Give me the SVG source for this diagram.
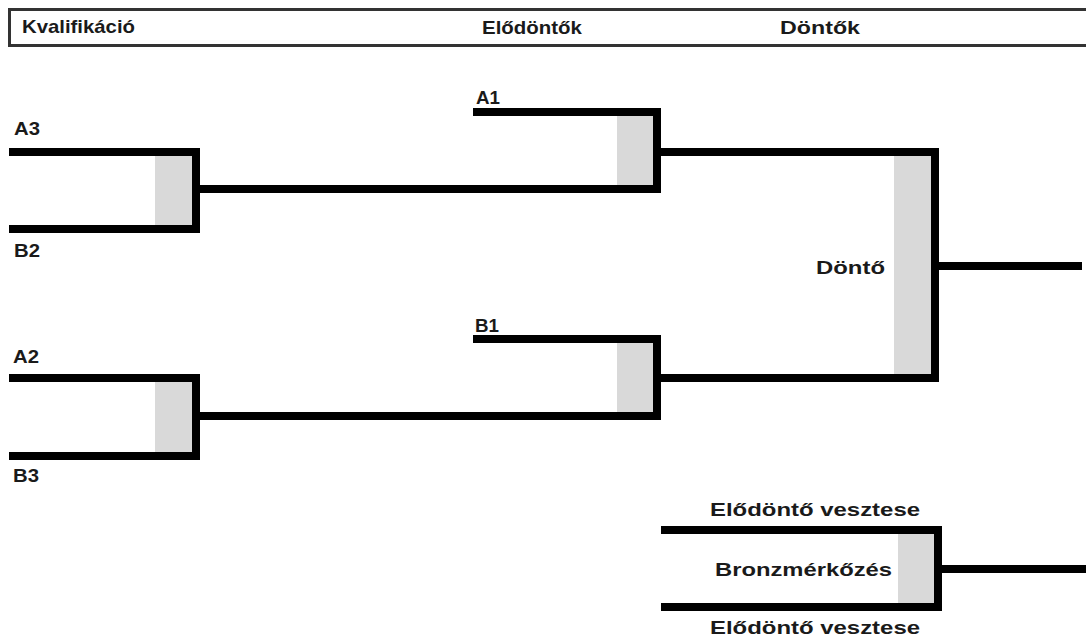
<svg xmlns="http://www.w3.org/2000/svg" width="1086" height="639" viewBox="0 0 1086 639">
<style>
.bk{fill:none;stroke:#000;stroke-width:8;stroke-linejoin:miter;stroke-linecap:butt}
.cn{fill:none;stroke:#000;stroke-width:8;stroke-linecap:butt}
.sh{fill:#d9d9d9;stroke:none}
.t{font-family:"Liberation Sans",Arial,sans-serif;font-weight:bold;fill:#1a1a1a;font-size:18.5px}
.h{font-family:"Liberation Sans",Arial,sans-serif;font-weight:bold;fill:#1a1a1a;font-size:19px}
</style>
<rect x="0" y="0" width="1086" height="639" fill="#fff"/>
<g id="header">
<rect x="9.5" y="9.5" width="1090" height="36" fill="#fff" stroke="#333" stroke-width="3"/>
<text class="h" x="22" y="33" textLength="113" lengthAdjust="spacingAndGlyphs">Kvalifikáció</text>
<text class="h" x="482" y="34" textLength="100" lengthAdjust="spacingAndGlyphs">Elődöntők</text>
<text class="h" x="780" y="34" textLength="80" lengthAdjust="spacingAndGlyphs">Döntők</text>
</g>
<g id="q1">
<rect class="sh" x="155" y="156" width="37" height="69"/>
<polyline class="bk" points="9,152 196,152 196,229 9,229"/>
<text class="t" x="14" y="135" textLength="26" lengthAdjust="spacingAndGlyphs">A3</text>
<text class="t" x="14" y="257" textLength="26" lengthAdjust="spacingAndGlyphs">B2</text>
</g>
<g id="q2">
<rect class="sh" x="155" y="382" width="37" height="70"/>
<polyline class="bk" points="9,378 196,378 196,456 9,456"/>
<text class="t" x="13" y="363" textLength="26" lengthAdjust="spacingAndGlyphs">A2</text>
<text class="t" x="13" y="482" textLength="26" lengthAdjust="spacingAndGlyphs">B3</text>
</g>
<g id="sf1">
<rect class="sh" x="617" y="116" width="36" height="69"/>
<polyline class="bk" points="473,112 657,112 657,189 600,189"/>
<text class="t" x="476" y="104" textLength="24" lengthAdjust="spacingAndGlyphs">A1</text>
</g>
<g id="sf2">
<rect class="sh" x="617" y="343" width="36" height="69"/>
<polyline class="bk" points="473,339 657,339 657,416 600,416"/>
<text class="t" x="475" y="332" textLength="24" lengthAdjust="spacingAndGlyphs">B1</text>
</g>
<g id="final">
<rect class="sh" x="894" y="156" width="37" height="218"/>
<polyline class="bk" points="700,152 935,152 935,378 700,378"/>
<text class="t" x="816" y="274" textLength="69" lengthAdjust="spacingAndGlyphs">Döntő</text>
</g>
<g id="bronze">
<rect class="sh" x="898" y="534" width="36" height="69"/>
<polyline class="bk" points="661,530 938,530 938,607 661,607"/>
<text class="t" x="710" y="516" textLength="210" lengthAdjust="spacingAndGlyphs">Elődöntő vesztese</text>
<text class="t" x="715" y="576" textLength="177" lengthAdjust="spacingAndGlyphs">Bronzmérkőzés</text>
<text class="t" x="710" y="634" textLength="210" lengthAdjust="spacingAndGlyphs">Elődöntő vesztese</text>
</g>
<g id="connectors">
<line class="cn" x1="196" y1="189" x2="604" y2="189"/>
<line class="cn" x1="196" y1="416" x2="604" y2="416"/>
<line class="cn" x1="657" y1="152" x2="704" y2="152"/>
<line class="cn" x1="657" y1="378" x2="704" y2="378"/>
<line class="cn" x1="935" y1="266" x2="1082" y2="266"/>
<line class="cn" x1="938" y1="569" x2="1086" y2="569"/>
</g>
</svg>
